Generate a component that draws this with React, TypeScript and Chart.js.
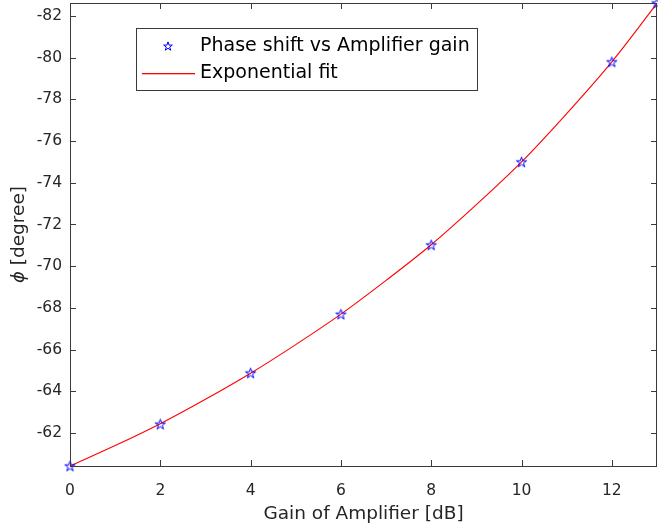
import React, { useEffect, useRef } from "react";
import { Chart, registerables } from "chart.js";

Chart.register(...registerables);

// ---- data ----
const gainDb = [0, 2, 4, 6, 8, 10, 12, 13];
const phaseDeg = [-60.42, -62.43, -64.88, -67.7, -71.02, -75.0, -79.8, -82.62];

const fitGainDb = [0, 1, 2, 3, 4, 5, 6, 7, 8, 9, 10, 11, 12, 13];
const fitPhaseDeg = [-60.42, -61.4, -62.45, -63.62, -64.87, -66.24, -67.7, -69.32, -71.03, -72.95, -75.0, -77.32, -79.8, -82.6];

const xTicks = [0, 2, 4, 6, 8, 10, 12];
const yTicks = [-82, -80, -78, -76, -74, -72, -70, -68, -66, -64, -62];
const xRange = [0, 13];
const yRange = [-82.62, -60.42];

const seriesLabels = ["Phase shift vs Amplifier gain", "Exponential fit"];
const xTitle = "Gain of Amplifier [dB]";
const yTitleSymbol = "ϕ";
const yTitleRest = " [degree]";

const FONT = "'DejaVu Sans', 'Liberation Sans', Arial, sans-serif";
const AXIS_COLOR = "#3a3a3a";
const TEXT_COLOR = "#262626";
const STAR_COLOR = "#0000ff";
const FIT_COLOR = "#ff0000";

function drawPentagram(ctx: CanvasRenderingContext2D, cx: number, cy: number, r: number) {
  const inner = r * 0.382;
  ctx.beginPath();
  for (let i = 0; i < 10; i++) {
    const rad = i % 2 === 0 ? r : inner;
    const a = -Math.PI / 2 + (i * Math.PI) / 5;
    const x = cx + rad * Math.cos(a);
    const y = cy + rad * Math.sin(a);
    if (i === 0) ctx.moveTo(x, y);
    else ctx.lineTo(x, y);
  }
  ctx.closePath();
  ctx.stroke();
}

function makeStarImage(): HTMLCanvasElement {
  const c = document.createElement("canvas");
  c.width = 13;
  c.height = 13;
  const g = c.getContext("2d")!;
  g.strokeStyle = STAR_COLOR;
  g.lineWidth = 1;
  drawPentagram(g, 6.5, 7, 5.4);
  return c;
}

const noPad = (s: any) => {
  s.paddingLeft = 0;
  s.paddingRight = 0;
  s.paddingTop = 0;
  s.paddingBottom = 0;
};

const framePlugin = {
  id: "matlabFrame",
  afterDatasetsDraw(chart: any) {
    const { ctx, chartArea } = chart;
    const { left, right, top, bottom } = chartArea;
    const xs = chart.scales.x;
    const ys = chart.scales.y;
    ctx.save();
    ctx.strokeStyle = AXIS_COLOR;
    ctx.lineWidth = 1;
    ctx.strokeRect(Math.round(left) + 0.5, Math.round(top) + 0.5, Math.round(right - left) - 1, Math.round(bottom - top));
    const tl = 6;
    ctx.beginPath();
    for (const v of xTicks) {
      const px = Math.round(xs.getPixelForValue(v)) + 0.5;
      ctx.moveTo(px, bottom);
      ctx.lineTo(px, bottom - tl);
      ctx.moveTo(px, top);
      ctx.lineTo(px, top + tl);
    }
    for (const v of yTicks) {
      const py = Math.round(ys.getPixelForValue(v)) + 0.5;
      ctx.moveTo(left, py);
      ctx.lineTo(left + tl, py);
      ctx.moveTo(right, py);
      ctx.lineTo(right - tl, py);
    }
    ctx.stroke();
    ctx.restore();
  },
  afterDraw(chart: any) {
    const { ctx, chartArea } = chart;
    const { left, top, bottom } = chartArea;
    ctx.save();
    ctx.fillStyle = TEXT_COLOR;
    ctx.translate(19, (top + bottom) / 2);
    ctx.rotate(-Math.PI / 2);
    ctx.textBaseline = "middle";
    ctx.font = `italic 18px ${FONT}`;
    const w1 = ctx.measureText(yTitleSymbol).width;
    ctx.font = `18.5px ${FONT}`;
    const w2 = ctx.measureText(yTitleRest).width;
    const start = -(w1 + w2) / 2;
    ctx.font = `italic 18px ${FONT}`;
    ctx.textAlign = "left";
    ctx.fillText(yTitleSymbol, start, 0);
    ctx.font = `18.5px ${FONT}`;
    ctx.fillText(yTitleRest, start + w1, 0);
    ctx.restore();

    // legend
    ctx.save();
    const bx = left + 66;
    const by = top + 25;
    const bw = 341;
    const bh = 62;
    ctx.fillStyle = "#ffffff";
    ctx.fillRect(bx, by, bw, bh);
    ctx.strokeStyle = AXIS_COLOR;
    ctx.lineWidth = 1;
    ctx.strokeRect(Math.round(bx) + 0.5, Math.round(by) + 0.5, bw, bh);
    const row1 = by + 18;
    const row2 = by + 45;
    ctx.strokeStyle = STAR_COLOR;
    ctx.lineWidth = 1;
    drawPentagram(ctx, bx + 32, row1 + 0.5, 4.6);
    ctx.fillStyle = FIT_COLOR;
    ctx.fillRect(bx + 6, row2, 53, 1.3);
    ctx.fillStyle = "#000000";
    ctx.font = `19px ${FONT}`;
    ctx.textBaseline = "middle";
    ctx.textAlign = "left";
    ctx.fillText(seriesLabels[0], bx + 64, row1);
    ctx.fillText(seriesLabels[1], bx + 64, row2);
    ctx.restore();
  },
};

export default function App() {
  const ref = useRef<HTMLCanvasElement | null>(null);
  useEffect(() => {
    const canvas = ref.current!;
    const star = makeStarImage();
    const chart = new Chart(canvas, {
      type: "scatter",
      data: {
        datasets: [
          {
            label: seriesLabels[0],
            data: gainDb.map((x, i) => ({ x, y: phaseDeg[i] })),
            pointStyle: star as any,
            pointRadius: 6,
            showLine: false,
            clip: false as any,
          },
          {
            label: seriesLabels[1],
            data: fitGainDb.map((x, i) => ({ x, y: fitPhaseDeg[i] })),
            showLine: true,
            pointRadius: 0,
            borderColor: FIT_COLOR,
            borderWidth: 1.1,
            cubicInterpolationMode: "monotone",
            clip: false as any,
          } as any,
        ],
      },
      options: {
        animation: false,
        responsive: false,
        devicePixelRatio: 1,
        layout: { autoPadding: false, padding: { top: 3, right: 1, left: 0, bottom: 0 } } as any,
        plugins: {
          legend: { display: false },
          tooltip: { enabled: false },
        },
        scales: {
          x: {
            type: "linear",
            min: xRange[0],
            max: xRange[1],
            grid: { display: false, drawTicks: false },
            border: { display: false },
            afterBuildTicks: (s: any) => {
              s.ticks = xTicks.map((v) => ({ value: v }));
            },
            afterFit: (s: any) => {
              s.height = 63;
              noPad(s);
            },
            ticks: {
              padding: 16,
              color: TEXT_COLOR,
              font: { family: FONT, size: 15.5 },
              maxRotation: 0,
              autoSkip: false,
            },
            title: {
              display: true,
              text: xTitle,
              color: TEXT_COLOR,
              font: { family: FONT, size: 18.5 },
              padding: { top: 0, bottom: 4 },
            },
          },
          y: {
            type: "linear",
            reverse: true,
            min: yRange[0],
            max: yRange[1],
            grid: { display: false, drawTicks: false },
            border: { display: false },
            afterBuildTicks: (s: any) => {
              s.ticks = yTicks.map((v) => ({ value: v }));
            },
            afterFit: (s: any) => {
              s.width = 70;
              noPad(s);
            },
            ticks: {
              padding: 8,
              color: TEXT_COLOR,
              font: { family: FONT, size: 15.5 },
              autoSkip: false,
            },
          },
        },
      },
      plugins: [framePlugin],
    });
    return () => chart.destroy();
  }, []);
  return (
    <div style={{ position: "absolute", left: 0, top: 0, width: 658, height: 529, background: "#fff" }}>
      <canvas ref={ref} width={658} height={529} style={{ display: "block", width: 658, height: 529 }} />
    </div>
  );
}
